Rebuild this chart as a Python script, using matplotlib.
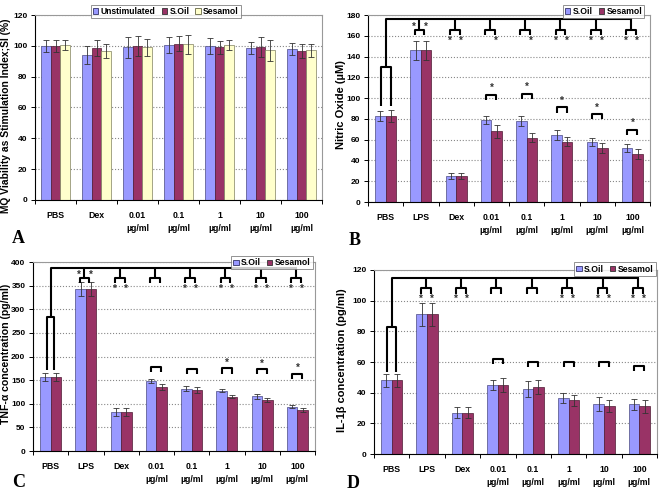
import numpy as np
import matplotlib.pyplot as plt
from matplotlib.patches import Patch

plt.rcParams['font.family'] = ['Liberation Sans', 'DejaVu Sans']
plt.rcParams['font.weight'] = 'bold'

doses = ['0.01\nµg/ml', '0.1\nµg/ml', '1\nµg/ml', '10\nµg/ml', '100\nµg/ml']
labels_a = ['PBS', 'Dex'] + doses
labels_bcd = ['PBS', 'LPS', 'Dex'] + doses

# panel A: viability (%)
unstim = [100, 94, 99, 100.5, 100, 98.5, 98]
unstim_err = [4, 6, 7, 5, 5, 4, 4]
soil_a = [100, 98.5, 100, 101.5, 99, 99, 96.5]
soil_a_err = [4, 5, 6.5, 5, 4, 6.5, 4.5]
sesamol_a = [100.5, 96.5, 99, 101, 100.5, 97, 97]
sesamol_a_err = [3.5, 4.5, 5.5, 6, 3.5, 7, 4]

# panel B: nitric oxide (uM)
soil_b = [83, 146, 25, 79, 78, 64.5, 58, 52]
soil_b_err = [5, 9, 3, 4, 5, 4.5, 4, 3.5]
sesamol_b = [83, 146, 25, 68, 62, 58, 52, 46]
sesamol_b_err = [6, 9, 3, 6, 4, 4.5, 4.5, 5]

# panel C: TNF-a (pg/ml)
soil_c = [157, 343, 82, 148, 132, 128, 116, 94]
soil_c_err = [9, 15, 8, 4, 5, 3, 5, 4]
sesamol_c = [157, 343, 82, 136, 129, 115, 108, 87]
sesamol_c_err = [9, 15, 8, 6, 6, 3, 5, 4]

# panel D: IL-1b (pg/ml)
soil_d = [48, 91, 27, 45, 42.5, 36.5, 32.5, 32.5]
soil_d_err = [4, 7.5, 3.5, 3.5, 5, 3.5, 4.5, 3.5]
sesamol_d = [48, 91, 27, 45, 43.5, 35, 31.5, 31]
sesamol_d_err = [4, 7.5, 3.5, 4.5, 4.5, 3.5, 4, 4]

# significance marks vs LPS (top bracket): 'both', 'right' or ''
stars_b = ['both', 'both', 'right', 'right', 'both', 'both', 'both']
stars_c = ['both', 'both', '', 'both', 'both', 'both', 'both']
stars_d = ['both', 'both', '', '', 'both', 'both', 'both']
# S.Oil vs Sesamol bracket levels (top of bracket) for dose groups
pair_b = [103, 104, 91, 84.5, 69.5]
pair_b_star = [True, True, True, True, True]
pair_c = [178, 173, 175, 173, 164]
pair_c_star = [False, False, True, True, True]
pair_d = [62, 60, 60, 60, 57.5]
pair_d_star = [False, False, False, False, False]

BLUE = '#9999FF'
MAROON = '#993366'
CREAM = '#FFFFCC'

fig = plt.figure(figsize=(6.71, 4.9), dpi=100)


def px_axes(l, t, r, b):
    return fig.add_axes([l / 671, 1 - b / 490, (r - l) / 671, (b - t) / 490])


def style(ax, labels, ymax, step):
    n = len(labels)
    ax.set_xlim(-0.5, n - 0.5)
    ax.set_ylim(0, ymax)
    ax.set_yticks(np.arange(0, ymax + 1, step))
    ax.set_xticks(range(n))
    ax.set_xticklabels(labels, fontsize=6.3, linespacing=1.5, va='top')
    ax.set_xticks(np.arange(-0.5, n), minor=True)
    ax.tick_params(axis='x', which='major', length=0, pad=8)
    ax.tick_params(axis='x', which='minor', length=3, width=0.7, direction='out')
    ax.tick_params(axis='y', labelsize=6, length=3, width=0.7, pad=2.5)
    ax.yaxis.grid(True, ls=':', color='#888888', lw=0.8)
    ax.set_axisbelow(True)
    for s in ['top', 'right']:
        ax.spines[s].set_color('#999999')
        ax.spines[s].set_linewidth(0.8)
    for s in ['left', 'bottom']:
        ax.spines[s].set_color('black')
        ax.spines[s].set_linewidth(0.8)


ekw = dict(elinewidth=0.6, ecolor='#333333', capthick=0.6)


def pair_bars(ax, a, ae, b, be):
    x = np.arange(len(a))
    ax.bar(x - 0.15, a, 0.3, color=BLUE, edgecolor='#4a4a80', lw=0.5,
           yerr=ae, capsize=2, error_kw=ekw)
    ax.bar(x + 0.15, b, 0.3, color=MAROON, edgecolor='#4d1a33', lw=0.5,
           yerr=be, capsize=2, error_kw=ekw)


def star(ax, xs, ys):
    ax.text(xs, ys, '*', ha='center', va='center', fontsize=7, color='#333333')


def brackets(ax, a, ae, b, be, main, u_top, u_w, br_top, br_h, star_y,
             marks, lps_star_y, pair_tops, pair_stars, dy):
    kw = dict(color='black', lw=1.5, clip_on=False, solid_capstyle='butt')
    n = len(a)
    x = np.arange(n)
    # PBS U bracket and stem
    lb = max(a[0] + ae[0], b[0] + be[0]) + dy
    ax.plot([-u_w, -u_w, u_w, u_w], [lb, u_top, u_top, lb], **kw)
    ax.plot([0, 0, n - 1], [u_top, main, main], **kw)
    w = 0.14
    c0 = -0.04
    for i in range(1, n):
        xc = x[i] + c0
        ax.plot([xc, xc], [main, br_top], **kw)
        ax.plot([xc - w, xc - w, xc + w, xc + w],
                [br_top - br_h, br_top, br_top, br_top - br_h], **kw)
        m = marks[i - 1]
        if i == 1 and lps_star_y is not None:
            for xs in (xc - w - 0.02, xc + w + 0.04):
                star(ax, xs, lps_star_y)
            continue
        if m == 'both':
            pos = (xc - w, xc + w + 0.03)
        elif m == 'right':
            pos = (xc + w + 0.03,)
        else:
            pos = ()
        for xs in pos:
            star(ax, xs, star_y)
    for j, top in enumerate(pair_tops):
        xc = x[3 + j]
        ax.plot([xc - w, xc - w, xc + w, xc + w],
                [top - br_h, top, top, top - br_h], **kw)
        if pair_stars[j]:
            star(ax, xc, top + dy * 2.2)


def legend(ax, handles, anchor, ncol):
    lg = ax.legend(handles=handles, loc='center', bbox_to_anchor=anchor,
                   bbox_transform=fig.transFigure, ncol=ncol, fontsize=6.2,
                   frameon=True, fancybox=False, handlelength=0.6,
                   handleheight=0.6, handletextpad=0.3, columnspacing=0.7,
                   borderpad=0.25, borderaxespad=0)
    lg.get_frame().set_edgecolor('#777777')
    lg.get_frame().set_linewidth(0.7)
    lg.set_zorder(10)


p_unst = Patch(facecolor=BLUE, edgecolor='#333366', lw=0.6, label='Unstimulated')
p_soil_a = Patch(facecolor=MAROON, edgecolor='#333333', lw=0.6, label='S.Oil')
p_ses_a = Patch(facecolor=CREAM, edgecolor='#666644', lw=0.6, label='Sesamol')
two = [Patch(facecolor=BLUE, edgecolor='#333366', lw=0.6, label='S.Oil'),
       Patch(facecolor=MAROON, edgecolor='#333333', lw=0.6, label='Sesamol')]

# ---------- A ----------
ax = px_axes(35, 15, 322, 200)
style(ax, labels_a, 120, 20)
x = np.arange(len(unstim))
bw = 0.23
ax.bar(x - bw, unstim, bw, color=BLUE, edgecolor='#4a4a80', lw=0.5,
       yerr=unstim_err, capsize=2, error_kw=ekw)
ax.bar(x, soil_a, bw, color=MAROON, edgecolor='#4d1a33', lw=0.5,
       yerr=soil_a_err, capsize=2, error_kw=ekw)
ax.bar(x + bw, sesamol_a, bw, color=CREAM, edgecolor='#808060', lw=0.5,
       yerr=sesamol_a_err, capsize=2, error_kw=ekw)
legend(ax, [p_unst, p_soil_a, p_ses_a], (166 / 671, 1 - 11.5 / 490), 3)
fig.text(6.5 / 671, 1 - 116 / 490, 'MQ Viability as Stimulation Index;SI (%)',
         rotation=90, ha='center', va='center', fontsize=7.4)

# ---------- B ----------
ax = px_axes(368, 15, 650, 202)
style(ax, labels_bcd, 180, 20)
pair_bars(ax, soil_b, soil_b_err, sesamol_b, sesamol_b_err)
brackets(ax, soil_b, soil_b_err, sesamol_b, sesamol_b_err, main=176,
         u_top=130, u_w=0.14, br_top=166, br_h=5, star_y=155, marks=stars_b,
         lps_star_y=169, pair_tops=pair_b, pair_stars=pair_b_star, dy=3)
legend(ax, two, (603.5 / 671, 1 - 11.7 / 490), 2)
fig.text(341 / 671, 1 - 105 / 490, 'Nitric Oxide (µM)', rotation=90,
         ha='center', va='center', fontsize=8)

# ---------- C ----------
ax = px_axes(33, 262, 315, 451)
style(ax, labels_bcd, 400, 50)
pair_bars(ax, soil_c, soil_c_err, sesamol_c, sesamol_c_err)
brackets(ax, soil_c, soil_c_err, sesamol_c, sesamol_c_err, main=388,
         u_top=284, u_w=0.09, br_top=366, br_h=11, star_y=344, marks=stars_c,
         lps_star_y=372, pair_tops=pair_c, pair_stars=pair_c_star, dy=5)
legend(ax, two, (272 / 671, 1 - 262.8 / 490), 2)
fig.text(6 / 671, 1 - 354 / 490, 'TNF-α concentration (pg/ml)', rotation=90,
         ha='center', va='center', fontsize=7.6)

# ---------- D ----------
ax = px_axes(374, 270, 657, 454)
style(ax, labels_bcd, 120, 20)
pair_bars(ax, soil_d, soil_d_err, sesamol_d, sesamol_d_err)
brackets(ax, soil_d, soil_d_err, sesamol_d, sesamol_d_err, main=115,
         u_top=83, u_w=0.13, br_top=108, br_h=3.5, star_y=101, marks=stars_d,
         lps_star_y=None, pair_tops=pair_d, pair_stars=pair_d_star, dy=1.5)
legend(ax, two, (615 / 671, 1 - 269 / 490), 2)
fig.text(342 / 671, 1 - 360 / 490, 'IL-1β concentration (pg/ml)', rotation=90,
         ha='center', va='center', fontsize=8)

for lab, px, py in [('A', 18, 238), ('B', 355, 240), ('C', 19, 482), ('D', 353, 483)]:
    fig.text(px / 671, 1 - py / 490, lab, ha='center', va='center',
             fontsize=13, fontweight='bold', family=['Liberation Serif', 'DejaVu Serif'])

fig.savefig('out.png', dpi=100)
